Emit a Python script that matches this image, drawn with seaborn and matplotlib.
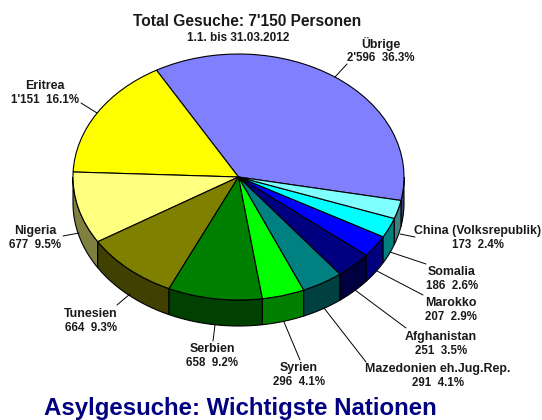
import numpy as np
from matplotlib import pyplot as plt
import seaborn as sns

# Data, counter-clockwise from the start angle
nations = ['Übrige', 'Eritrea', 'Nigeria', 'Tunesien', 'Serbien', 'Syrien',
           'Mazedonien eh.Jug.Rep.', 'Afghanistan', 'Marokko', 'Somalia',
           'China (Volksrepublik)']
gesuche = [2596, 1151, 677, 664, 658, 296, 291, 251, 207, 186, 173]
colors = ['#8080FF', '#FFFF00', '#FFFF80', '#808000', '#008000', '#00FF00',
          '#008080', '#000080', '#0000FF', '#00FFFF', '#80FFFF']

# Label centre (px) and leader line (px) per nation
label_pos = [(381, 51), (45, 93), (35, 238), (91, 321), (212, 356), (299, 375),
             (438, 376), (441, 344), (451, 310), (452, 279), (478, 238)]
leaders = [((347, 64), (335, 77)), ((81, 103), (97, 113)), ((63, 236), (79, 233)),
           ((117, 305), (130, 294)), ((213, 341), (215, 325)), ((300, 360), (284, 322)),
           ((366, 362), (324, 308)), ((406, 328), (355, 290)), ((423, 295), (377, 271)),
           ((426, 264), (390, 252)), ((415, 237), (400, 234))]

W, H = 542, 420
CX, CY, RX, RY = 238.5, 177, 165.5, 123
DEPTH = 26 / RY
START = -11


def px(x, y):
    # picture pixels to axes data (unit circle = top face of the pie)
    return (x - CX) / RX, (CY - y) / RY


def darker(col):
    r, g, b = [int(col[i:i + 2], 16) // 2 for i in (1, 3, 5)]
    return f'#{r:02x}{g:02x}{b:02x}'


sns.set_theme(style='white')
plt.rcParams['font.family'] = ['Liberation Sans', 'DejaVu Sans']

fig = plt.figure(figsize=(W / 100, H / 100), dpi=100)
ax = fig.add_axes([0, 0, 1, 1])

# Side wall of the pie, only the front half shows
total = sum(gesuche)
edges = START + np.cumsum([0] + gesuche) / total * 360
for i, col in enumerate(colors):
    for shift in (0, 360):
        lo = max(edges[i] + shift, 180)
        hi = min(edges[i + 1] + shift, 360)
        if lo >= hi:
            continue
        t = np.radians(np.linspace(lo, hi, 60))
        xs = np.r_[np.cos(t), np.cos(t)[::-1]]
        ys = np.r_[np.sin(t), np.sin(t)[::-1] - DEPTH]
        ax.fill(xs, ys, facecolor=darker(col), edgecolor='black', linewidth=0.8, zorder=1)

ax.pie(gesuche, colors=colors, startangle=START, counterclock=True, radius=1,
       wedgeprops={'edgecolor': 'black', 'linewidth': 0.8, 'zorder': 2})
ax.set_aspect('auto')
ax.set_xlim(px(0, 0)[0], px(W, 0)[0])
ax.set_ylim(px(0, H)[1], px(0, 0)[1])
ax.axis('off')

for name, n, pos, line in zip(nations, gesuche, label_pos, leaders):
    value = f'{n:,}'.replace(',', "'")
    x, y = px(pos[0], pos[1] - 7)
    ax.text(x, y, name, ha='center', va='center', fontsize=8.9, fontweight='bold',
            color='#1a1a1a', zorder=4)
    x, y = px(pos[0], pos[1] + 7)
    ax.text(x, y, f'{value}  {n / total * 100:.1f}%', ha='center', va='center',
            fontsize=8.3, fontweight='bold', color='#1a1a1a', zorder=4)
    (x0, y0), (x1, y1) = px(*line[0]), px(*line[1])
    ax.plot([x0, x1], [y0, y1], color='black', linewidth=0.7, zorder=3)

x, y = px(247.5, 21)
ax.text(x, y, "Total Gesuche: 7'150 Personen", ha='center', va='center',
        fontsize=11.2, fontweight='bold', color='#1a1a1a')
x, y = px(238, 38)
ax.text(x, y, '1.1. bis 31.03.2012', ha='center', va='center',
        fontsize=8.5, fontweight='bold', color='#1a1a1a')
x, y = px(240.5, 409)
ax.text(x, y, 'Asylgesuche: Wichtigste Nationen', ha='center', va='center',
        fontsize=17.3, fontweight='bold', color='#000080')

fig.savefig('out.png', dpi=100)
